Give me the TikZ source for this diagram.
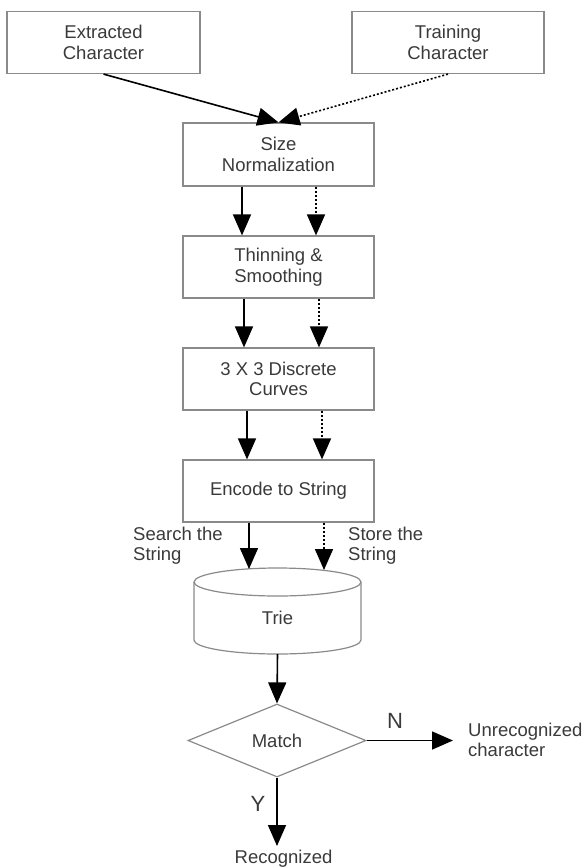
\documentclass[tikz,border=0pt]{standalone}
\usepackage{fontspec}
\setmainfont{Liberation Sans}
\usetikzlibrary{arrows.meta,shapes.geometric,calc}
\definecolor{txt}{HTML}{3A3A3A}
\definecolor{bord}{HTML}{8A8A8A}
\begin{document}
\begin{tikzpicture}[x=1pt,y=1pt,
  every node/.style={font=\fontsize{18.5}{20.5}\selectfont, text=txt},
  box/.style={draw=bord, line width=1.2pt, minimum width=191pt, minimum height=62pt, inner sep=0pt, align=center},
  arr/.style={draw=black, line width=1.6pt, -{Triangle[length=21pt,width=18pt]}},
  darr/.style={arr, dash pattern=on 2pt off 2pt},
  lbl/.style={align=left, anchor=west, inner sep=0pt},
  big/.style={font=\fontsize{22}{24}\selectfont, inner sep=0pt}]
\useasboundingbox (0,0) rectangle (587,-868);

\node[box, minimum width=193pt] (ex) at (103.5,-42.5) {Extracted\\Character};
\node[box, minimum width=192pt] (tr) at (448,-42.5) {Training\\Character};
\node[box, minimum height=63pt] (sn) at (278.5,-154.5) {Size\\Normalization};
\node[box] (th) at (278.5,-267) {Thinning \&\\Smoothing};
\node[box] (dc) at (278.5,-379) {3 X 3 Discrete\\Curves};
\node[box] (en) at (278.5,-491) {Encode to String};

% Trie cylinder
\draw[draw=bord, line width=1.2pt] (194,-582) -- (194,-640)
  arc[start angle=180, end angle=360, x radius=83.5, y radius=14] -- (361,-582);
\draw[draw=bord, line width=1.2pt, fill=white] (277.5,-582) ellipse [x radius=83.5, y radius=14];
\node (trie) at (277.5,-618) {Trie};
\coordinate (trieA) at (249,-569);
\coordinate (trieB) at (324,-570);
\coordinate (triebot) at (277.5,-654);

\node[diamond, draw=bord, line width=1.2pt, aspect=2.44, minimum width=178pt, minimum height=73pt, inner sep=0pt] (match) at (277,-740.5) {Match};
\coordinate (nend) at (453,-740.5);
\coordinate (yend) at (277,-846);

\node[lbl] (unrec) at (468,-740) {Unrecognized\\character};
\node[anchor=base, inner sep=0pt] (recog) at (283.5,-863.5) {Recognized};
\node[lbl] (search) at (133,-545.5) {Search the\\String};
\node[lbl] (store) at (348,-545.5) {Store the\\String};
\node[big] (nlab) at (395,-721) {N};
\node[big] (ylab) at (258,-804) {Y};

% connectors
\draw[arr] (ex.south) -- (sn.north);
\draw[darr] (tr.south) -- (sn.north);

\draw[arr] ($(sn.south)+(-36.5,0)$) -- ($(th.north)+(-36.5,0)$);
\draw[darr] ($(sn.south)+(37.5,0)$) -- ($(th.north)+(37.5,0)$);
\draw[arr] ($(th.south)+(-34.5,0)$) -- ($(dc.north)+(-34.5,0)$);
\draw[darr] ($(th.south)+(40.5,0)$) -- ($(dc.north)+(40.5,0)$);
\draw[arr] ($(dc.south)+(-31.5,0)$) -- ($(en.north)+(-31.5,0)$);
\draw[darr] ($(dc.south)+(43.5,0)$) -- ($(en.north)+(43.5,0)$);
\draw[arr] (en.south -| trieA) -- (trieA);
\draw[darr] (en.south -| trieB) -- (trieB);

\draw[arr] (triebot) -- (match.north);
\draw[arr] (match.east) -- (nend);
\draw[arr] (match.south) -- (yend);
\end{tikzpicture}
\end{document}
